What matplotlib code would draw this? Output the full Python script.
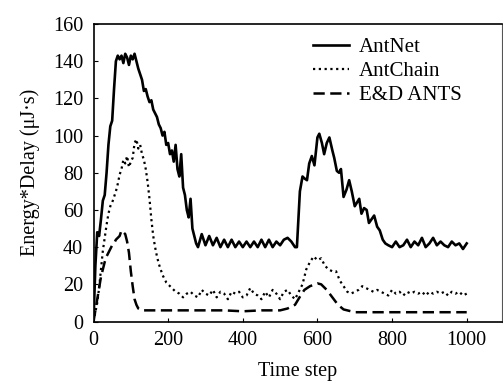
import matplotlib
matplotlib.use('Agg')
from matplotlib import pyplot as plt

# AntNet (solid)
net_x = [0, 5, 10, 15, 20, 25, 30, 35, 40, 45, 50, 55, 60, 65, 70, 75, 80, 85, 90, 95,
         100, 105, 110, 115, 120, 125, 130, 135, 140, 145, 150, 155, 160, 165, 170, 175,
         180, 185, 190, 195, 200, 205, 210, 215, 220, 225, 230, 235, 240, 245, 250, 255,
         260, 265, 270, 275, 280, 290, 300, 310, 320, 330, 340, 350, 360, 370, 380, 390,
         400, 410, 420, 430, 440, 450, 460, 470, 480, 490, 500, 510, 520, 530, 540, 545,
         553, 560, 565, 572, 578, 585, 592, 600, 605, 612, 618, 625, 632, 640, 645, 652,
         658, 663, 670, 678, 685, 692, 700, 706, 712, 718, 725, 732, 738, 745, 752, 760,
         767, 775, 782, 790, 800, 810, 820, 830, 840, 850, 860, 870, 880, 890, 900, 910,
         920, 930, 940, 950, 960, 970, 980, 990, 1000]
net_y = [0, 30, 48, 46, 55, 65, 68, 80, 95, 105, 108, 125, 140, 143, 141, 143, 139, 144, 142, 138,
         143, 141, 144, 140, 136, 133, 130, 124, 125, 121, 118, 119, 114, 112, 110, 106,
         104, 100, 102, 95, 96, 90, 92, 86, 95, 82, 78, 90, 72, 68, 60, 56,
         66, 50, 46, 42, 40, 47, 41, 46, 41, 45, 40, 44, 40, 44, 40, 43,
         40, 43, 40, 43, 40, 44, 40, 44, 40, 43, 41, 44, 45, 43, 40, 40,
         70, 78, 77, 76, 85, 89, 84, 99, 101, 96, 90, 96, 99, 92, 88, 81,
         80, 82, 67, 71, 76, 70, 62, 64, 66, 58, 61, 60, 53, 55, 57, 51,
         49, 44, 42, 41, 40, 43, 40, 41, 44, 40, 43, 41, 45, 40, 42, 45,
         41, 43, 41, 40, 43, 41, 42, 39, 42]

# AntChain (dotted)
chain_x = [0, 5, 10, 15, 20, 25, 30, 35, 40, 45, 50, 55, 60, 65, 70, 75, 80, 85, 90, 95,
           100, 105, 110, 115, 120, 125, 130, 135, 140, 145, 150, 155, 160, 165, 170, 175,
           180, 185, 190, 195, 200, 210, 220, 230, 240, 250, 260, 270, 280, 290, 300, 310,
           320, 330, 340, 350, 360, 370, 380, 390, 400, 410, 420, 430, 440, 450, 460, 470,
           480, 490, 500, 510, 520, 530, 540, 550, 560, 570, 580, 590, 600, 610, 620, 630,
           640, 650, 660, 670, 680, 690, 700, 710, 720, 730, 740, 750, 760, 770, 780, 790,
           800, 810, 820, 830, 840, 850, 860, 870, 880, 890, 900, 910, 920, 930, 940, 950,
           960, 970, 980, 990, 1000]
chain_y = [0, 5, 10, 18, 28, 38, 45, 52, 58, 62, 64, 67, 70, 74, 79, 82, 87, 85, 89, 83,
           86, 88, 96, 98, 93, 95, 90, 87, 82, 75, 66, 55, 46, 40, 35, 31,
           28, 25, 23, 21, 20, 18, 16, 15, 13, 15, 16, 14, 13, 17, 15, 14,
           17, 13, 16, 15, 12, 16, 15, 16, 13, 14, 18, 15, 14, 12, 16, 13,
           17, 15, 12, 16, 17, 14, 12, 16, 20, 28, 32, 35, 33, 34, 30, 28,
           27, 27, 22, 19, 16, 15, 16, 17, 19, 18, 17, 16, 17, 16, 15, 14,
           17, 15, 16, 14, 16, 15, 16, 15, 16, 14, 16, 15, 16, 15, 16, 14,
           16, 15, 16, 14, 15]

# E&D ANTS (dashed)
ed_x = [0, 5, 10, 15, 20, 25, 30, 35, 40, 45, 50, 55, 60, 65, 70, 75, 80, 85, 90, 95,
        100, 105, 110, 115, 120, 130, 150, 200, 250, 300, 350, 400, 450, 500, 520, 540,
        555, 565, 580, 600, 610, 625, 640, 655, 670, 690, 700, 750, 800, 850, 900, 950, 1000]
ed_y = [0, 6, 12, 18, 24, 28, 32, 35, 37, 39, 41, 42, 44, 45, 46, 49, 48, 47, 43, 37,
        27, 19, 12, 9, 7, 6, 6, 6, 6, 6, 6, 5.5, 6, 6, 7, 9,
        14, 17, 19, 20.5, 20, 17, 13, 9, 6.5, 5.5, 5, 5, 5, 5, 5, 5, 5]

x_ticks = [0, 200, 400, 600, 800, 1000]
y_ticks = [0, 20, 40, 60, 80, 100, 120, 140, 160]

plt.rcParams['font.family'] = ['Liberation Serif', 'DejaVu Serif']
plt.rcParams['font.size'] = 14.5

fig = plt.figure(figsize=(5.03, 3.85), dpi=100)
ax = fig.add_axes([0.1859, 0.1649, 0.8117, 0.7727])

ax.plot(net_x, net_y, color='black', lw=1.9, ls='-', label='AntNet')
ax.plot(chain_x, chain_y, color='black', lw=1.6, ls=(0, (1, 1.6)), label='AntChain')
ax.plot(ed_x, ed_y, color='black', lw=1.8, ls=(0, (4.5, 2.2)), label='E&D ANTS')

ax.set_xlim(0, 1094)
ax.set_ylim(0, 160)
ax.set_xticks(x_ticks)
ax.set_yticks(y_ticks)
ax.tick_params(axis='y', direction='in', length=3, width=0.8, right=False, pad=7.5)
ax.tick_params(axis='x', direction='in', length=3, width=0.8, top=False, pad=6.5)
for s in ax.spines.values():
    s.set_linewidth(1.2)
ax.spines['right'].set_linewidth(0.8)
ax.spines['right'].set_color('#555555')

ax.set_xlabel('Time step', labelpad=9)
ax.set_ylabel('Energy*Delay (μJ·s)', labelpad=9)

fig.legend(loc='upper left', bbox_to_anchor=(0.622, 0.903), frameon=False,
           handlelength=1.75, handletextpad=0.45, labelspacing=0.22, borderpad=0,
           borderaxespad=0, fontsize=15)

fig.savefig('out.png', dpi=100)
